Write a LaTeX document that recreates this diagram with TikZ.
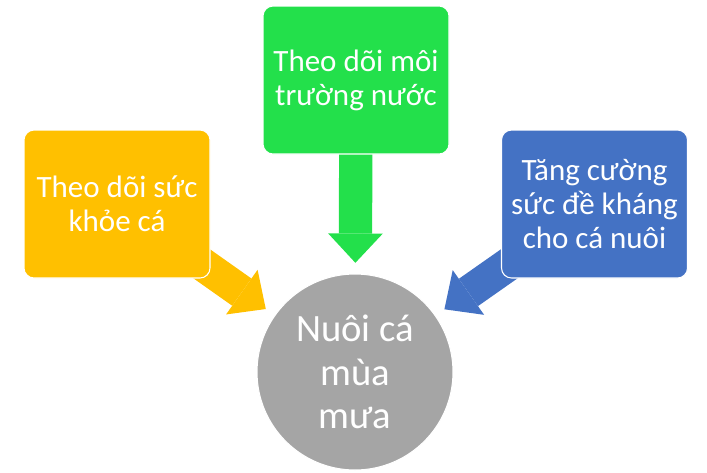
\documentclass[tikz,border=0pt]{standalone}
\usepackage{fontspec}
\setmainfont{Carlito}
\usetikzlibrary{arrows.meta,backgrounds}
\definecolor{boxyellow}{HTML}{FFC000}
\definecolor{boxgreen}{HTML}{23E04B}
\definecolor{boxblue}{HTML}{4472C4}
\definecolor{circlegray}{HTML}{A5A5A5}
\begin{document}
\begin{tikzpicture}[x=0.75pt,y=-0.75pt,
    task/.style={draw=white, line width=0.8pt, rounded corners=7.5pt, minimum width=139.5pt, minimum height=111pt, align=center, text=white, font=\fontsize{23.25}{25.5}\selectfont},
    goal/.style={circle, draw=white, line width=0.8pt, fill=circlegray, minimum size=147pt, inner sep=0pt, align=center, text=white, font=\fontsize{29}{32.6}\selectfont},
    push/.style={line width=25pt, shorten >=8pt, -{Triangle[length=22pt 0 0, width=41pt 0 0, line width=0pt 0 0]}}]
  \useasboundingbox (0,0) rectangle (707,472);

  \node[task, fill=boxyellow] (health) at (117,204) {Theo dõi sức\\khỏe cá};
  \node[task, fill=boxgreen] (water) at (356,80) {Theo dõi môi\\trường nước};
  \node[task, fill=boxblue] (resist) at (594.5,204) {Tăng cường\\sức đề kháng\\cho cá nuôi};
  \node[goal] (fish) at (355,372) {Nuôi cá\\mùa\\mưa};

  \begin{pgfonlayer}{background}
    \draw[push, boxyellow] (health.center) -- (fish);
    \draw[push, boxgreen] (water.center) -- (fish);
    \draw[push, boxblue] (resist.center) -- (fish);
  \end{pgfonlayer}
\end{tikzpicture}
\end{document}
